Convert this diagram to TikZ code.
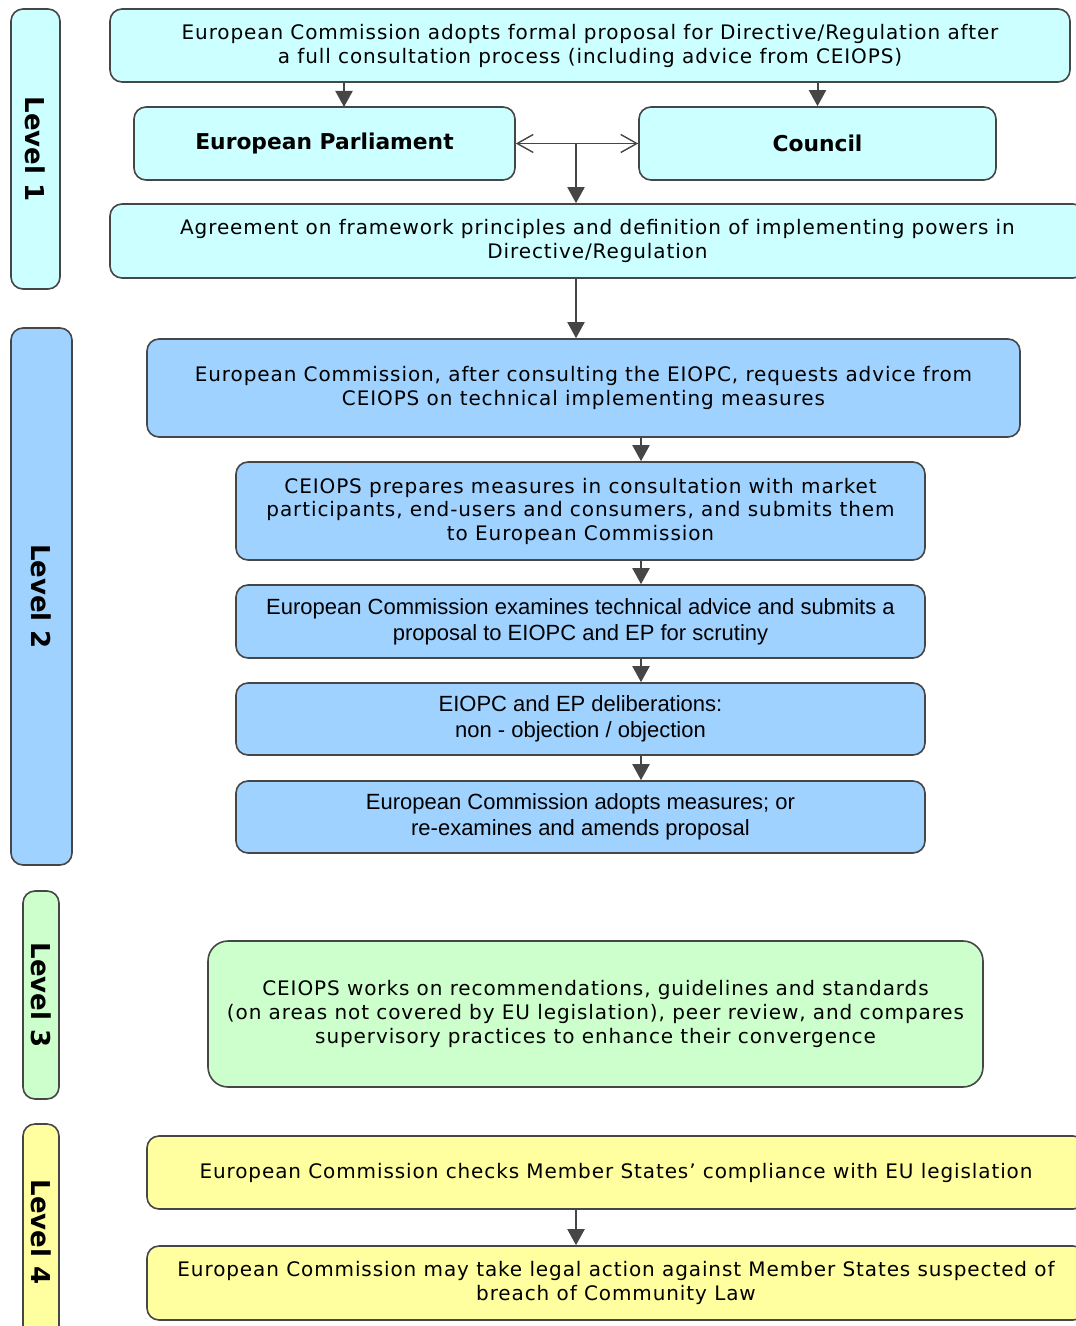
\documentclass[tikz,border=0pt]{standalone}
\usepackage{fontspec}
\setmainfont{DejaVu Sans}[LetterSpace=4.5]
\newfontfamily\plainfont{DejaVu Sans}
\newfontfamily\arialfont{Liberation Sans}
\usetikzlibrary{arrows.meta}

\definecolor{boxline}{RGB}{70,70,70}
\definecolor{levelcyan}{RGB}{204,255,255}
\definecolor{levelblue}{RGB}{160,210,255}
\definecolor{levelgreen}{RGB}{204,255,204}
\definecolor{levelyellow}{RGB}{255,255,160}

\begin{document}
\begin{tikzpicture}[x=0.5pt,y=-0.5pt,>={Triangle[length=8pt,width=8.5pt]}]

\tikzset{%
every box/.style={
draw=boxline,
line width=0.8pt,
rounded corners=6pt,
align=center,
inner sep=0pt,
font=\fontsize{10}{12}\selectfont
},
box cyan/.style={fill=levelcyan},
box blue/.style={fill=levelblue},
box green/.style={fill=levelgreen},
box yellow/.style={fill=levelyellow},
box arial/.style={font=\arialfont\fontsize{11}{13}\selectfont},
box bold/.style={font=\plainfont\bfseries\fontsize{10.9}{12}\selectfont},
level tag/.style={
every box,
rotate=-90,
font=\plainfont\bfseries\fontsize{13}{14}\selectfont
},
flow/.style={draw=boxline, line width=1pt},
open tips/.style={<->, >={Straight Barb[length=8pt,width=9pt]}, line width=0.7pt},
}

\useasboundingbox (0,0) rectangle (1075,1326);

% Level tags on the left
\node [level tag, box cyan, minimum width=140pt, minimum height=24.5pt] (lvl-1) at (35.5,149) {Level 1};
\node [level tag, box blue, minimum width=268.5pt, minimum height=30.5pt] (lvl-2) at (41.5,596.5) {Level 2};
\node [level tag, box green, minimum width=104pt, minimum height=18pt] (lvl-3) at (41,995) {Level 3};
\node [level tag, box yellow, minimum width=108pt, minimum height=18pt] (lvl-4) at (41,1232) {Level 4};

% Level 1 boxes
\node [every box, box cyan, minimum width=480pt, minimum height=36.5pt] (top) at (590,45.5)
{European Commission adopts formal proposal for Directive/Regulation after\\ a full consultation process (including advice from CEIOPS)};
\node [every box, box cyan, box bold, minimum width=190.5pt, minimum height=36.5pt] (ep) at (324.5,143.5) {European Parliament};
\node [every box, box cyan, box bold, minimum width=178.5pt, minimum height=36.5pt] (council) at (817.5,143.5) {Council};
\node [every box, box cyan, minimum width=487.5pt, minimum height=37pt] (agree) at (597.5,241)
{Agreement on framework principles and definition of implementing powers in\\ Directive/Regulation};

% Level 2 boxes
\node [every box, box blue, minimum width=436.5pt, minimum height=49pt] (advice) at (583.5,388)
{European Commission, after consulting the EIOPC, requests advice from\\ CEIOPS on technical implementing measures};
\node [every box, box blue, minimum width=344.5pt, minimum height=49pt, font=\fontsize{10}{11.75}\selectfont] (prepare) at (580.5,511)
{CEIOPS prepares measures in consultation with market\\ participants, end-users and consumers, and submits them\\ to European Commission};
\node [every box, box blue, box arial, minimum width=344.5pt, minimum height=36.5pt] (examine) at (580.5,621.5)
{European Commission examines technical advice and submits a\\ proposal to EIOPC and EP for scrutiny};
\node [every box, box blue, box arial, minimum width=344.5pt, minimum height=36pt] (delib) at (580.5,719)
{EIOPC and EP deliberations:\\ non - objection / objection};
\node [every box, box blue, box arial, minimum width=344.5pt, minimum height=36pt] (adopt) at (580.5,817)
{European Commission adopts measures; or\\ re-examines and amends proposal};

% Level 3 box
\node [every box, box green, rounded corners=10pt, minimum width=387.5pt, minimum height=73pt] (recom) at (595.5,1014)
{CEIOPS works on recommendations, guidelines and standards\\ (on areas not covered by EU legislation), peer review, and compares\\ supervisory practices to enhance their convergence};

% Level 4 boxes
\node [every box, box yellow, minimum width=469pt, minimum height=36.5pt] (check) at (616,1172.5)
{European Commission checks Member States’ compliance with EU legislation};
\node [every box, box yellow, minimum width=469pt, minimum height=37pt] (legal) at (616,1283)
{European Commission may take legal action against Member States suspected of\\ breach of Community Law};

% Arrow positions
\coordinate (ep-in) at (344,107);
\coordinate (split) at (576,143.5);
\coordinate (l2x) at (641,0);

% Level 1 arrows
\draw [flow,->] (top.south -| ep-in) -- (ep-in);
\draw [flow,->] (top.south -| council.north) -- (council.north);
\draw [flow,open tips] (ep.east) -- (council.west);
\draw [flow,->] (split) -- (agree.north -| split);
\draw [flow,->] (agree.south -| split) -- (advice.north -| split);

% Level 2 arrows
\foreach \a/\b in {advice/prepare, prepare/examine, examine/delib, delib/adopt}
\draw [flow,->] (\a.south -| l2x) -- (\b.north -| l2x);

% Level 4 arrow
\draw [flow,->] (check.south -| split) -- (legal.north -| split);

\end{tikzpicture}
\end{document}
